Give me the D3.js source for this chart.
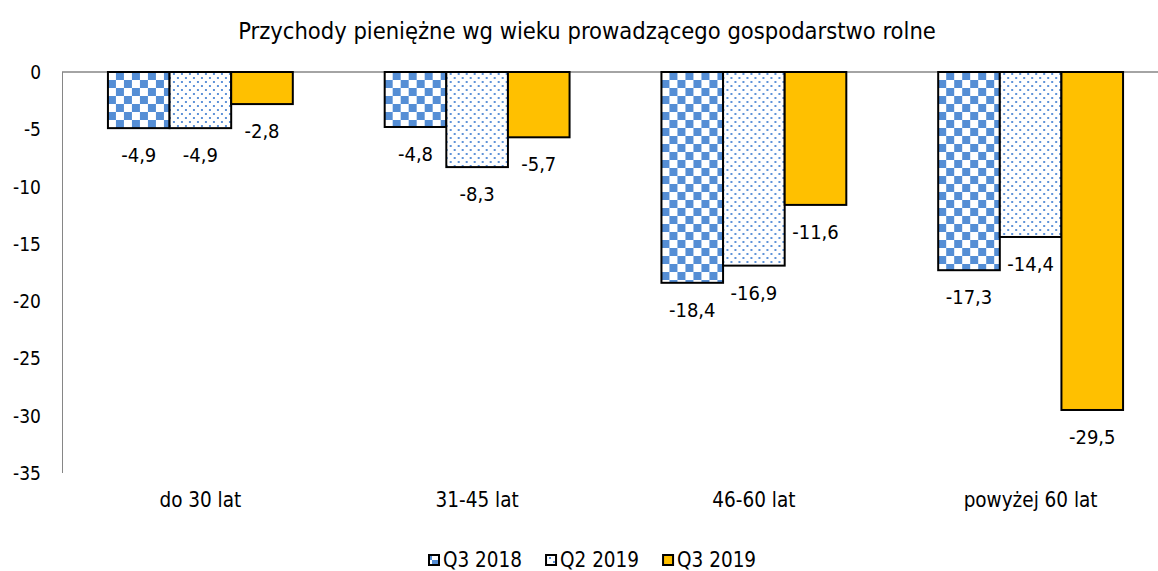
<!DOCTYPE html>
<html>
<head>
<meta charset="utf-8">
<script src="https://cdn.jsdelivr.net/npm/d3@7"></script>
<style>
  html, body { margin: 0; padding: 0; background: #fff; }
  svg { display: block; font-family: "DejaVu Sans Condensed", "DejaVu Sans", Verdana, sans-serif; font-stretch: condensed; }
</style>
</head>
<body>
<svg id="chart" width="1158" height="571"></svg>
<script>
const title = "Przychody pieniężne wg wieku prowadzącego gospodarstwo rolne";
const categories = ["do 30 lat", "31-45 lat", "46-60 lat", "powyżej 60 lat"];
const seriesNames = ["Q3 2018", "Q2 2019", "Q3 2019"];
const q3_2018 = [-4.9, -4.8, -18.4, -17.3];
const q2_2019 = [-4.9, -8.3, -16.9, -14.4];
const q3_2019 = [-2.8, -5.7, -11.6, -29.5];
const yTicks = [0, -5, -10, -15, -20, -25, -30, -35];

const seriesValues = [q3_2018, q2_2019, q3_2019];
const fills = ["url(#checker)", "url(#dots)", "#FFC000"];

const svg = d3.select("#chart");
const W = 1158, H = 571;
const plotLeft = 62, plotRight = 1169, plotTop = 72, plotBottom = 473;

// patterns
const defs = svg.append("defs");
const blue = "#558ED5";
const checker = defs.append("pattern").attr("id", "checker")
  .attr("patternUnits", "userSpaceOnUse").attr("width", 16).attr("height", 16);
checker.append("rect").attr("width", 16).attr("height", 16).attr("fill", "#fff");
checker.append("rect").attr("x", 0).attr("y", 0).attr("width", 8).attr("height", 8).attr("fill", blue);
checker.append("rect").attr("x", 8).attr("y", 8).attr("width", 8).attr("height", 8).attr("fill", blue);

const dots = defs.append("pattern").attr("id", "dots")
  .attr("patternUnits", "userSpaceOnUse").attr("width", 8).attr("height", 8);
dots.append("rect").attr("width", 8).attr("height", 8).attr("fill", "#fff");
dots.append("rect").attr("x", 1).attr("y", 1).attr("width", 2).attr("height", 2).attr("fill", "#5F93D8");
dots.append("rect").attr("x", 5).attr("y", 5).attr("width", 2).attr("height", 2).attr("fill", "#5F93D8");

// scales
const x0 = d3.scaleBand().domain(categories).range([plotLeft, plotRight])
  .paddingInner(0.332).paddingOuter(0.166);
const x1 = d3.scaleBand().domain(seriesNames).range([0, x0.bandwidth()]);
const y = d3.scaleLinear().domain([0, -35]).range([plotTop, plotBottom]);

// title
svg.append("text").attr("x", 587).attr("y", 31)
  .attr("text-anchor", "middle").attr("dominant-baseline", "central")
  .attr("font-size", 23.5).attr("fill", "#000").text(title);

// y axis labels
svg.append("g").selectAll("text").data(yTicks).join("text")
  .attr("x", 41).attr("y", d => y(d))
  .attr("text-anchor", "end").attr("dominant-baseline", "central")
  .attr("font-size", 19).attr("fill", "#000")
  .text(d => String(d));

// axis lines
svg.append("line").attr("x1", plotLeft + 0.5).attr("x2", plotLeft + 0.5)
  .attr("y1", y(0)).attr("y2", y(-35)).attr("stroke", "#868686").attr("stroke-width", 1);
svg.append("line").attr("x1", plotLeft).attr("x2", W)
  .attr("y1", y(0)).attr("y2", y(0)).attr("stroke", "#868686").attr("stroke-width", 1.5);

// bars
const groups = svg.append("g").selectAll("g").data(categories).join("g")
  .attr("transform", c => `translate(${x0(c)},0)`);

groups.each(function(c, ci) {
  const g = d3.select(this);
  seriesNames.forEach((s, si) => {
    const v = seriesValues[si][ci];
    g.append("rect")
      .attr("x", x1(s)).attr("width", x1.bandwidth())
      .attr("y", y(0)).attr("height", y(v) - y(0))
      .attr("fill", fills[si]).attr("stroke", "#000").attr("stroke-width", 2);
    g.append("text")
      .attr("x", x1(s) + x1.bandwidth() / 2).attr("y", y(v) + 27)
      .attr("text-anchor", "middle").attr("dominant-baseline", "central")
      .attr("font-size", 20).attr("fill", "#000")
      .text(String(v).replace(".", ","));
  });
});

// category labels
svg.append("g").selectAll("text").data(categories).join("text")
  .attr("x", c => x0(c) + x0.bandwidth() / 2).attr("y", 500)
  .attr("text-anchor", "middle").attr("dominant-baseline", "central")
  .attr("font-size", 20.5).attr("fill", "#000").text(c => c);

// legend
const legend = svg.append("g");
let lx = 428;
seriesNames.forEach((s, si) => {
  legend.append("rect").attr("x", lx + 1).attr("y", 555).attr("width", 10).attr("height", 10)
    .attr("fill", fills[si]).attr("stroke", "#000").attr("stroke-width", 2);
  const t = legend.append("text").attr("x", lx + 15).attr("y", 560)
    .attr("dominant-baseline", "central").attr("font-size", 20.5).attr("fill", "#000").text(s);
  lx += 15 + t.node().getComputedTextLength() + 23;
});
</script>
</body>
</html>
